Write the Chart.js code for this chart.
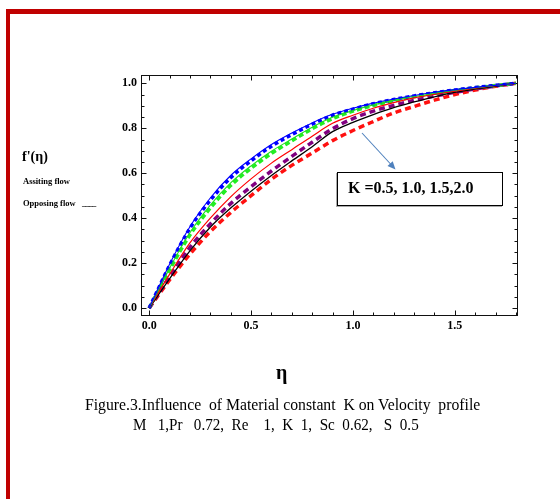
<!DOCTYPE html>
<html><head><meta charset="utf-8">
<script src="https://cdn.jsdelivr.net/npm/chart.js@4.4.1/dist/chart.umd.min.js"></script>
<style>
html,body{margin:0;padding:0;background:#fff;}
body{width:560px;height:499px;position:relative;overflow:hidden;font-family:"Liberation Serif","Times New Roman",serif;}
#c{position:absolute;left:0;top:0;}
.t{position:absolute;white-space:pre;line-height:1;color:#000;}
.b{font-weight:bold;}
</style></head><body>
<div style="position:absolute;left:6px;top:9px;width:554px;height:5px;background:#c00000"></div>
<div style="position:absolute;left:6px;top:9px;width:4px;height:490px;background:#c00000"></div>
<canvas id="c" width="560" height="499"></canvas>

<div class="t b" style="left:22px;top:150px;font-size:14px;">f'(η)</div>
<div class="t b" style="left:23px;top:177px;font-size:8.5px;">Assiting flow</div>
<div class="t b" style="left:23px;top:199px;font-size:8.5px;">Opposing flow</div>
<div class="t b" style="left:82px;top:200px;font-size:8px;letter-spacing:-0.6px;">____</div>

<div style="position:absolute;left:337px;top:172px;width:164px;height:32px;border:1px solid #000;box-shadow:-1px 1px 0 #aaa;background:#fff;"></div>
<div class="t b" style="left:348px;top:180px;font-size:16px;">K =0.5, 1.0, 1.5,2.0</div>

<svg style="position:absolute;left:0;top:0" width="560" height="499">
  <line x1="362" y1="133" x2="391" y2="164.5" stroke="#4f81bd" stroke-width="1.1"/>
  <polygon points="395.5,169.5 387.5,166 392.7,161.2" fill="#4f81bd"/>
</svg>

<div class="t b" style="left:276px;top:362px;font-size:20px;">η</div>
<div class="t fit" id="cap1" data-l="85" data-w="395" style="top:397px;font-size:16px;">Figure.3.Influence  of Material constant  K on Velocity  profile</div>
<div class="t fit" id="cap2" data-l="133" data-w="286" style="top:417px;font-size:16px;">M   1,Pr   0.72,  Re    1,  K  1,  Sc  0.62,   S  0.5</div>

<script>
// ---- data ----
const eta = [0,0.1,0.2,0.3,0.4,0.5,0.6,0.7,0.8,0.9,1.0,1.1,1.2,1.3,1.4,1.5,1.6,1.7,1.8];
// assisting flow (thick dashed)
const blueAssist   = [0,0.190,0.355,0.480,0.580,0.655,0.720,0.772,0.818,0.858,0.885,0.909,0.928,0.944,0.958,0.970,0.981,0.991,1.0];
const greenAssist  = [0,0.170,0.325,0.445,0.545,0.622,0.688,0.744,0.798,0.843,0.876,0.901,0.922,0.940,0.955,0.968,0.980,0.990,1.0];
const purpleAssist = [0,0.140,0.270,0.375,0.465,0.540,0.610,0.675,0.738,0.798,0.843,0.876,0.902,0.924,0.943,0.960,0.975,0.988,1.0];
const redAssist    = [0,0.125,0.240,0.340,0.425,0.500,0.573,0.635,0.690,0.745,0.790,0.830,0.868,0.897,0.925,0.950,0.970,0.987,1.0];
// opposing flow (thin solid)
const blueOppose   = [0,0.195,0.362,0.490,0.590,0.664,0.728,0.779,0.824,0.862,0.889,0.912,0.930,0.946,0.960,0.972,0.982,0.991,1.0];
const greenOppose  = [0,0.177,0.335,0.458,0.557,0.633,0.698,0.752,0.805,0.849,0.879,0.904,0.924,0.941,0.956,0.969,0.980,0.990,1.0];
const redOppose    = [0,0.150,0.290,0.400,0.495,0.575,0.645,0.705,0.765,0.822,0.858,0.889,0.914,0.935,0.951,0.965,0.978,0.990,1.0];
const blackOppose  = [0,0.130,0.255,0.360,0.445,0.520,0.590,0.655,0.718,0.785,0.826,0.861,0.892,0.917,0.940,0.960,0.975,0.988,1.0];
// ticks
const xTicks = [0,0.5,1.0,1.5];
const xMinorTicks = [0.1,0.2,0.3,0.4,0.6,0.7,0.8,0.9,1.1,1.2,1.3,1.4,1.6,1.7,1.8];
const yTicks = [0,0.2,0.4,0.6,0.8,1.0];
const yMinorTicks = [0.05,0.1,0.15,0.25,0.3,0.35,0.45,0.5,0.55,0.65,0.7,0.75,0.85,0.9,0.95];

function ser(vals, color, dash, width){
  return {
    data: eta.map((x,i)=>({x:x, y:vals[i]})),
    borderColor: color, backgroundColor: color,
    borderWidth: width, borderDash: dash,
    pointRadius: 0, fill: false,
    cubicInterpolationMode: 'monotone'
  };
}

const frame = {
  id: 'frame',
  beforeDatasetsDraw(chart){
    const {ctx, chartArea:a, scales:{x, y}} = chart;
    ctx.save();
    ctx.strokeStyle = '#111';
    ctx.lineWidth = 1;
    const L = Math.round(a.left)+0.5, R = Math.round(a.right)-0.5, T = Math.round(a.top)+0.5, B = Math.round(a.bottom)-0.5;
    ctx.strokeRect(L, T, R-L, B-T);
    ctx.beginPath();
    const xt = (v, len) => { const p = Math.round(x.getPixelForValue(v))+0.5; ctx.moveTo(p,B); ctx.lineTo(p,B-len); ctx.moveTo(p,T); ctx.lineTo(p,T+len); };
    const yt = (v, len) => { const p = Math.round(y.getPixelForValue(v))+0.5; ctx.moveTo(L,p); ctx.lineTo(L+len,p); ctx.moveTo(R,p); ctx.lineTo(R-len,p); };
    xTicks.forEach(v=>xt(v,5)); xMinorTicks.forEach(v=>xt(v,3));
    yTicks.forEach(v=>yt(v,5)); yMinorTicks.forEach(v=>yt(v,3));
    ctx.stroke();
    ctx.restore();
  }
};

Chart.defaults.font.family = '"Liberation Serif","Times New Roman",serif';
Chart.defaults.color = '#000';

new Chart(document.getElementById('c'), {
  type: 'line',
  data: { datasets: [
    ser(blueOppose,  '#0000ff', [], 1.1),
    ser(greenOppose, '#1ee01e', [], 1.1),
    ser(redOppose,   '#ff0000', [], 1.2),
    ser(blackOppose, '#000000', [], 1.3),
    ser(blueAssist,  '#0000ff', [4,3], 3.5),
    ser(greenAssist, '#22ee22', [5,3], 3.5),
    ser(purpleAssist,'#800080', [6,4], 3.5),
    ser(redAssist,   '#ff1010', [6,4], 3.5)
  ]},
  options: {
    responsive: false, animation: false,
    layout: { padding: { left: 105, right: 42, top: 75, bottom: 153 } },
    plugins: { legend: {display:false}, tooltip: {enabled:false} },
    scales: {
      x: {
        type: 'linear', min: -0.04, max: 1.81,
        grid: { display:false, drawTicks:false }, border: { display:false },
        afterBuildTicks: s => { s.ticks = xTicks.map(v=>({value:v})); },
        afterFit: s => { s.height = 30; },
        ticks: { padding: 3, font: { size: 12, weight: 'bold' }, callback: v => Number(v).toFixed(1), maxRotation: 0 }
      },
      y: {
        type: 'linear', min: -0.035, max: 1.037,
        grid: { display:false, drawTicks:false }, border: { display:false },
        afterBuildTicks: s => { s.ticks = yTicks.map(v=>({value:v})); },
        afterFit: s => { s.width = 36; },
        ticks: { padding: 4, font: { size: 12, weight: 'bold' }, callback: v => Number(v).toFixed(1) }
      }
    }
  },
  plugins: [frame]
});

// fit caption lines to the reference widths
document.querySelectorAll('.fit').forEach(el => {
  const w = el.offsetWidth, tw = +el.dataset.w;
  el.style.left = el.dataset.l + 'px';
  el.style.transformOrigin = '0 0';
  el.style.transform = 'scaleX(' + (tw/w) + ')';
});
</script>
</body></html>
